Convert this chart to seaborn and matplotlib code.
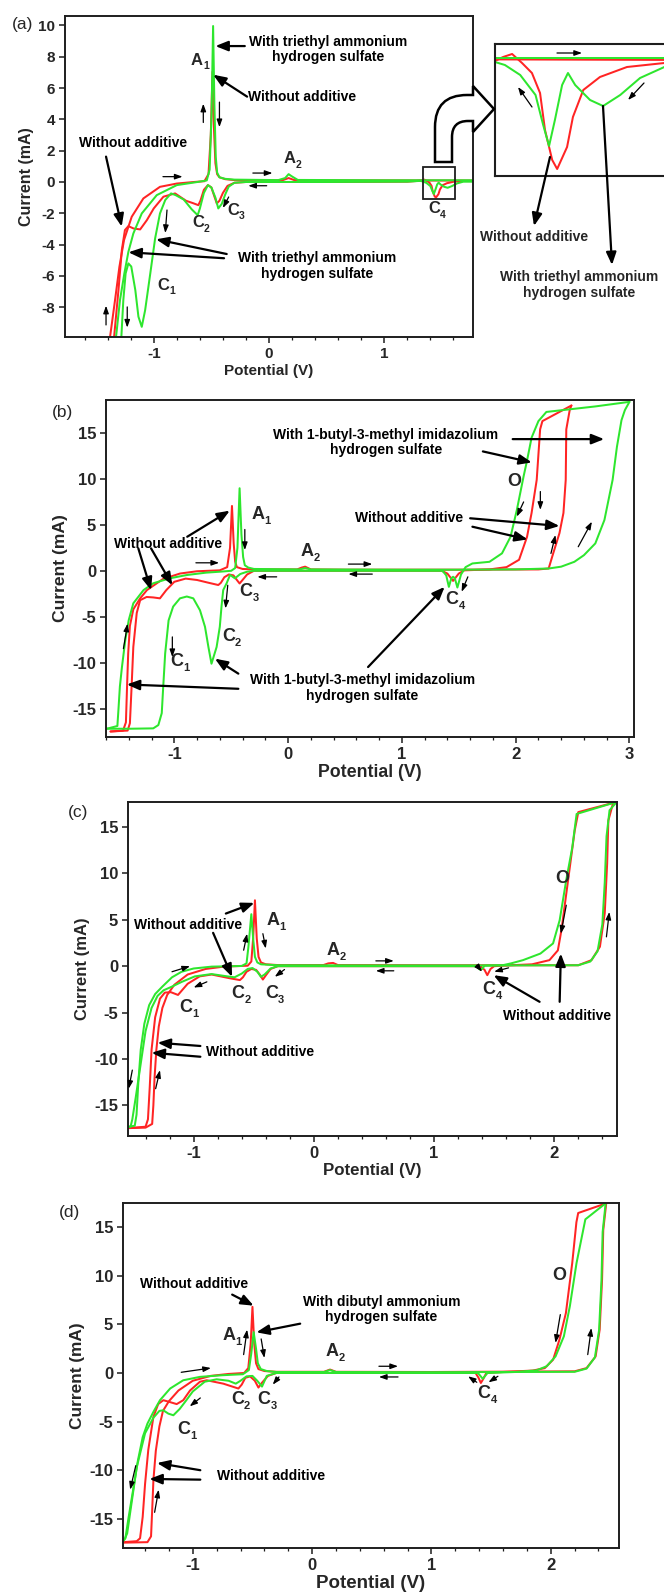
import matplotlib
matplotlib.use("Agg")
import matplotlib.pyplot as plt
import seaborn as sns
from matplotlib.path import Path
from matplotlib.patches import PathPatch, Rectangle
from matplotlib.ticker import MultipleLocator

# ---------------------------------------------------------------- data
# Cyclic voltammograms: (potential V, current mA) pairs, forward and reverse sweeps.

# (a) with / without triethyl ammonium hydrogen sulfate
A_RED_FWD = [(-1.40, -11.0), (-1.379, -9.89), (-1.336, -7.55), (-1.298, -5.42), (-1.258, -3.71),
             (-1.191, -2.22), (-1.09, -1.05), (-0.946, -0.31), (-0.80, -0.10), (-0.65, 0.0),
             (-0.56, 0.05), (-0.525, 0.5), (-0.505, 3.0), (-0.49, 7.04), (-0.478, 3.5),
             (-0.465, 1.2), (-0.45, 0.5), (-0.43, 0.3), (-0.38, 0.18), (-0.30, 0.12),
             (0.05, 0.10), (0.12, 0.12), (0.17, 0.25), (0.22, 0.12), (0.30, 0.10),
             (1.0, 0.10), (1.77, 0.09)]
A_RED_REV = [(1.77, 0.06), (1.686, 0.06), (1.603, 0.02), (1.543, -0.08), (1.506, -0.21),
             (1.483, -0.48), (1.47, -0.78), (1.448, -1.0), (1.437, -0.91), (1.421, -0.61),
             (1.41, -0.24), (1.392, -0.04), (1.37, 0.06), (1.348, 0.15), (1.328, 0.12),
             (1.31, 0.08), (1.2, 0.02), (0.5, 0.0), (-0.2, 0.0), (-0.3, -0.05),
             (-0.36, -0.25), (-0.40, -0.7), (-0.43, -1.2), (-0.453, -1.37), (-0.475, -0.9),
             (-0.50, -0.35), (-0.53, -0.2), (-0.565, -0.5), (-0.595, -1.2), (-0.613, -1.48),
             (-0.66, -1.35), (-0.72, -1.2), (-0.815, -0.73), (-0.916, -0.94), (-1.0, -1.69),
             (-1.06, -2.44), (-1.118, -3.03), (-1.175, -2.97), (-1.22, -2.82), (-1.25, -3.07),
             (-1.277, -4.35), (-1.306, -6.9), (-1.344, -9.89), (-1.36, -11.0)]
A_GRN_FWD = [(-1.34, -11.0), (-1.327, -9.89), (-1.293, -7.55), (-1.255, -5.84), (-1.22, -4.46),
             (-1.177, -3.29), (-1.104, -2.01), (-0.974, -0.84), (-0.80, -0.2), (-0.62, 0.0),
             (-0.54, 0.1), (-0.515, 0.8), (-0.498, 4.5), (-0.485, 9.96), (-0.474, 5.0),
             (-0.462, 1.6), (-0.45, 0.6), (-0.43, 0.3), (-0.38, 0.2), (-0.30, 0.15),
             (0.08, 0.12), (0.14, 0.25), (0.17, 0.5), (0.20, 0.35), (0.25, 0.13),
             (1.0, 0.11), (1.77, 0.11)]
A_GRN_REV = [(1.77, 0.02), (1.686, 0.02), (1.632, -0.09), (1.588, -0.26), (1.55, -0.37),
             (1.521, -0.31), (1.488, -0.16), (1.472, -0.04), (1.459, -0.16), (1.443, -0.51),
             (1.43, -0.77), (1.417, -0.56), (1.40, -0.26), (1.366, -0.06), (1.332, 0.04),
             (1.31, 0.07), (1.2, 0.02), (0.5, 0.0), (-0.2, 0.0), (-0.30, -0.05),
             (-0.35, -0.3), (-0.38, -0.8), (-0.41, -1.4), (-0.44, -1.69), (-0.465, -1.0),
             (-0.50, -0.35), (-0.53, -0.2), (-0.565, -0.7), (-0.60, -1.7), (-0.619, -2.12),
             (-0.67, -1.75), (-0.74, -1.12), (-0.81, -0.84), (-0.85, -0.73), (-0.90, -1.15),
             (-0.946, -2.01), (-0.988, -3.6), (-1.03, -5.84), (-1.075, -8.2), (-1.104, -9.25),
             (-1.133, -8.6), (-1.16, -6.9), (-1.195, -5.4), (-1.22, -5.2), (-1.244, -5.84),
             (-1.264, -7.55), (-1.281, -9.89), (-1.29, -11.0)]

# (b) with / without 1-butyl-3-methyl imidazolium hydrogen sulfate
B_RED_FWD = [(-1.56, -17.5), (-1.45, -17.4), (-1.425, -16.5), (-1.415, -12.6), (-1.405, -9.0),
             (-1.39, -6.0), (-1.36, -4.2), (-1.30, -3.0), (-1.24, -2.1), (-1.10, -0.9),
             (-0.95, -0.3), (-0.80, -0.05), (-0.60, 0.05), (-0.535, 0.4), (-0.51, 2.5),
             (-0.493, 7.06), (-0.478, 3.0), (-0.465, 1.0), (-0.45, 0.4), (-0.40, 0.2),
             (-0.30, 0.15), (0.08, 0.15), (0.12, 0.35), (0.15, 0.45), (0.20, 0.15),
             (0.5, 0.12), (1.5, 0.12), (2.2, 0.15), (2.29, 0.25), (2.33, 1.9),
             (2.385, 4.1), (2.42, 6.3), (2.44, 9.9), (2.445, 15.4), (2.475, 17.5), (2.49, 18.0)]
B_RED_REV = [(2.49, 18.0), (2.235, 16.3), (2.215, 15.4), (2.185, 9.9), (2.14, 6.3),
             (2.10, 3.7), (2.03, 1.2), (1.92, 0.4), (1.77, 0.15), (1.55, 0.05),
             (1.50, -0.3), (1.45, -1.1), (1.40, -0.3), (1.35, 0.0), (0.5, 0.0),
             (-0.30, 0.0), (-0.36, -0.4), (-0.40, -1.0), (-0.426, -1.38), (-0.45, -1.0),
             (-0.48, -0.5), (-0.52, -0.4), (-0.56, -0.7), (-0.59, -1.3), (-0.613, -1.55),
             (-0.70, -1.3), (-0.80, -1.0), (-0.90, -0.85), (-1.0, -1.2), (-1.07, -2.1),
             (-1.126, -3.0), (-1.185, -2.9), (-1.243, -2.85), (-1.30, -3.2), (-1.33, -4.6),
             (-1.36, -8.3), (-1.375, -12.6), (-1.39, -16.6), (-1.41, -17.4), (-1.56, -17.5)]
B_GRN_FWD = [(-1.60, -17.2), (-1.58, -17.16), (-1.50, -16.9), (-1.49, -15.0), (-1.478, -12.6),
             (-1.46, -10.5), (-1.43, -7.5), (-1.40, -5.36), (-1.36, -3.54), (-1.27, -2.1),
             (-1.185, -1.36), (-1.04, -0.82), (-0.89, -0.46), (-0.72, -0.2), (-0.60, -0.1),
             (-0.50, 0.0), (-0.465, 0.3), (-0.445, 2.5), (-0.426, 8.99), (-0.41, 4.0),
             (-0.395, 1.5), (-0.38, 0.6), (-0.35, 0.35), (-0.30, 0.2), (0.10, 0.15),
             (0.15, 0.3), (0.20, 0.15), (1.0, 0.12), (1.5, 0.12), (2.0, 0.15),
             (2.29, 0.25), (2.40, 0.45), (2.516, 0.98), (2.60, 1.7), (2.70, 2.98),
             (2.78, 5.53), (2.852, 9.9), (2.89, 13.5), (2.93, 16.4), (2.96, 17.5), (3.0, 18.4)]
B_GRN_REV = [(3.0, 18.4), (2.70, 17.9), (2.27, 17.3), (2.20, 16.3), (2.14, 14.5),
             (2.10, 12.0), (2.07, 10.3), (2.01, 6.6), (1.955, 3.7), (1.88, 1.9),
             (1.77, 0.98), (1.62, 0.8), (1.56, 0.4), (1.52, -0.4), (1.488, -1.82),
             (1.465, -0.8), (1.45, -0.65), (1.435, -0.8), (1.413, -1.75), (1.39, -0.5),
             (1.357, 0.0), (0.5, 0.0), (-0.30, 0.0), (-0.36, -0.1), (-0.42, -0.35),
             (-0.467, -0.82), (-0.51, -0.45), (-0.54, -1.36), (-0.57, -2.1), (-0.585, -3.9),
             (-0.60, -6.1), (-0.628, -8.3), (-0.673, -10.12), (-0.70, -8.3), (-0.73, -6.1),
             (-0.774, -4.3), (-0.833, -3.0), (-0.89, -2.8), (-0.95, -3.0), (-1.01, -3.9),
             (-1.05, -5.4), (-1.08, -9.0), (-1.097, -12.6), (-1.11, -15.5), (-1.14, -16.8),
             (-1.185, -17.16), (-1.39, -17.2), (-1.60, -17.2)]

# (c)
C_RED_FWD = [(-1.546, -17.45), (-1.40, -17.4), (-1.345, -17.0), (-1.335, -15.0), (-1.325, -12.0),
             (-1.31, -9.0), (-1.29, -6.5), (-1.26, -4.5), (-1.22, -3.1), (-1.16, -2.0),
             (-1.05, -0.9), (-0.90, -0.3), (-0.75, -0.05), (-0.55, 0.05), (-0.52, 0.5),
             (-0.505, 3.0), (-0.49, 7.1), (-0.475, 3.0), (-0.46, 1.0), (-0.44, 0.4),
             (-0.40, 0.2), (-0.30, 0.12), (0.08, 0.12), (0.12, 0.3), (0.16, 0.35),
             (0.20, 0.12), (1.0, 0.10), (2.0, 0.10), (2.20, 0.10), (2.31, 0.65),
             (2.38, 2.1), (2.42, 5.7), (2.44, 11.05), (2.45, 15.7), (2.49, 17.6)]
C_RED_REV = [(2.49, 17.6), (2.20, 16.6), (2.17, 14.6), (2.115, 9.26), (2.06, 3.9),
             (2.03, 1.7), (1.96, 0.65), (1.815, 0.2), (1.64, 0.1), (1.50, 0.0),
             (1.47, -0.3), (1.443, -0.97), (1.42, -0.4), (1.39, -0.05), (1.35, 0.0),
             (0.5, 0.0), (-0.30, 0.0), (-0.36, -0.3), (-0.40, -1.0), (-0.424, -1.44),
             (-0.45, -0.9), (-0.48, -0.4), (-0.52, -0.3), (-0.56, -0.6), (-0.59, -1.2),
             (-0.615, -1.5), (-0.70, -1.3), (-0.85, -0.9), (-0.95, -1.1), (-1.05, -1.9),
             (-1.13, -3.1), (-1.19, -2.8), (-1.24, -2.85), (-1.28, -3.5), (-1.32, -5.5),
             (-1.35, -9.0), (-1.365, -13.0), (-1.38, -16.5), (-1.40, -17.3), (-1.546, -17.45)]
C_GRN_FWD = [(-1.546, -17.3), (-1.49, -17.2), (-1.475, -16.0), (-1.46, -12.5), (-1.44, -9.0),
             (-1.41, -6.2), (-1.37, -4.2), (-1.32, -3.0), (-1.26, -2.2), (-1.18, -1.2),
             (-1.10, -0.6), (-1.0, -0.25), (-0.85, -0.05), (-0.60, 0.02), (-0.56, 0.3),
             (-0.545, 2.0), (-0.52, 5.6), (-0.505, 3.0), (-0.49, 1.0), (-0.47, 0.4),
             (-0.44, 0.2), (-0.30, 0.1), (0.5, 0.08), (1.5, 0.08), (2.2, 0.1),
             (2.30, 0.5), (2.36, 1.6), (2.40, 4.5), (2.42, 9.0), (2.435, 14.0),
             (2.46, 16.8), (2.52, 17.7)]
C_GRN_REV = [(2.52, 17.7), (2.186, 16.4), (2.15, 12.8), (2.10, 9.3), (2.045, 4.95),
             (1.99, 2.45), (1.885, 1.36), (1.74, 0.65), (1.64, 0.3), (1.57, 0.1),
             (1.42, 0.05), (1.40, -0.3), (1.38, -0.35), (1.36, -0.1), (1.33, 0.0),
             (0.5, 0.0), (-0.30, 0.0), (-0.36, -0.25), (-0.41, -0.9), (-0.44, -1.15),
             (-0.47, -0.6), (-0.51, -0.2), (-0.55, -0.3), (-0.60, -0.8), (-0.66, -1.2),
             (-0.72, -1.1), (-0.85, -0.85), (-0.99, -1.1), (-1.10, -1.7), (-1.18, -2.2),
             (-1.25, -2.6), (-1.30, -3.2), (-1.35, -4.5), (-1.40, -7.0), (-1.44, -10.5),
             (-1.48, -14.0), (-1.51, -16.5), (-1.525, -17.3), (-1.546, -17.35)]

# (d) with / without dibutyl ammonium hydrogen sulfate
D_RED_FWD = [(-1.585, -17.45), (-1.38, -17.4), (-1.35, -16.8), (-1.34, -14.0), (-1.33, -11.0),
             (-1.31, -8.0), (-1.28, -5.5), (-1.25, -3.9), (-1.20, -2.9), (-1.12, -1.8),
             (-1.0, -0.8), (-0.85, -0.3), (-0.70, -0.1), (-0.57, 0.0), (-0.535, 0.5),
             (-0.515, 3.0), (-0.50, 6.8), (-0.485, 3.0), (-0.47, 1.0), (-0.45, 0.4),
             (-0.40, 0.2), (-0.30, 0.12), (0.10, 0.12), (0.15, 0.35), (0.20, 0.12),
             (1.0, 0.10), (2.2, 0.17), (2.30, 0.5), (2.376, 1.7), (2.41, 4.46),
             (2.43, 9.6), (2.44, 14.7), (2.465, 17.45)]
D_RED_REV = [(2.465, 17.45), (2.23, 16.45), (2.215, 15.5), (2.18, 11.3), (2.127, 6.17),
             (2.073, 3.43), (2.02, 1.37), (1.95, 0.5), (1.85, 0.25), (1.60, 0.1),
             (1.46, 0.0), (1.435, -0.6), (1.414, -1.03), (1.395, -0.5), (1.37, 0.0),
             (0.5, 0.0), (-0.30, 0.0), (-0.37, -0.3), (-0.42, -1.0), (-0.45, -1.5),
             (-0.48, -0.8), (-0.52, -0.35), (-0.56, -0.5), (-0.59, -1.2), (-0.618, -1.6),
             (-0.744, -1.1), (-0.883, -0.75), (-0.94, -0.9), (-1.023, -1.8), (-1.08, -2.8),
             (-1.135, -3.2), (-1.19, -3.0), (-1.247, -2.8), (-1.29, -3.2), (-1.33, -4.5),
             (-1.373, -7.9), (-1.40, -11.4), (-1.42, -14.8), (-1.442, -17.0), (-1.47, -17.3),
             (-1.585, -17.4)]
D_GRN_FWD = [(-1.585, -17.25), (-1.565, -17.0), (-1.54, -15.0), (-1.50, -12.0), (-1.46, -9.0),
             (-1.42, -6.6), (-1.38, -5.2), (-1.33, -4.0), (-1.275, -2.8), (-1.19, -1.6),
             (-1.08, -0.75), (-0.94, -0.4), (-0.75, -0.23), (-0.58, -0.13), (-0.53, 0.3),
             (-0.51, 2.0), (-0.49, 4.2), (-0.47, 2.5), (-0.455, 1.0), (-0.43, 0.4),
             (-0.38, 0.2), (-0.30, 0.1), (0.10, 0.1), (0.15, 0.3), (0.20, 0.1),
             (1.0, 0.08), (2.2, 0.12), (2.30, 0.45), (2.37, 1.6), (2.405, 4.4),
             (2.425, 9.5), (2.435, 14.5), (2.46, 17.45)]
D_GRN_REV = [(2.46, 17.45), (2.29, 15.8), (2.216, 11.3), (2.16, 6.86), (2.11, 3.77),
             (2.04, 1.7), (1.966, 0.69), (1.88, 0.27), (1.70, 0.1), (1.47, 0.0),
             (1.45, -0.3), (1.43, -0.6), (1.41, -0.3), (1.39, 0.0), (0.5, 0.0),
             (-0.30, 0.0), (-0.38, -0.3), (-0.42, -1.4), (-0.46, -0.8), (-0.50, -0.3),
             (-0.55, -0.35), (-0.60, -0.8), (-0.64, -1.1), (-0.70, -0.8), (-0.80, -0.65),
             (-0.90, -0.9), (-1.0, -1.9), (-1.06, -2.9), (-1.11, -3.7), (-1.163, -4.35),
             (-1.205, -4.18), (-1.247, -3.84), (-1.28, -3.9), (-1.33, -4.6), (-1.40, -6.2),
             (-1.47, -9.7), (-1.51, -13.1), (-1.55, -16.5), (-1.575, -17.2), (-1.585, -17.25)]

# axis ticks
A_XTICKS = [-1, 0, 1]
A_YTICKS = [-8, -6, -4, -2, 0, 2, 4, 6, 8, 10]
B_XTICKS = [-1, 0, 1, 2, 3]
CD_XTICKS = [-1, 0, 1, 2]
BCD_YTICKS = [-15, -10, -5, 0, 5, 10, 15]

# ---------------------------------------------------------------- style
sns.set_style("ticks")
plt.rcParams["font.family"] = ["Liberation Sans", "DejaVu Sans"]
plt.rcParams["axes.unicode_minus"] = False

W, H = 664, 1593
fig = plt.figure(figsize=(W / 100, H / 100), dpi=100)

RED = "#ff2424"
GRN = "#2ee62e"
INK = "#1e1e1e"
LW = 1.45
TXT = 10


def frac(x, y):
    return (x / W, 1 - y / H)


def panel(l, t, r, b):
    return fig.add_axes([l / W, 1 - b / H, (r - l) / W, (b - t) / H])


def cv(ax, pts, color):
    v = [p[0] for p in pts]
    i = [p[1] for p in pts]
    sns.lineplot(x=v, y=i, sort=False, estimator=None, color=color, linewidth=LW, ax=ax)


def frame(ax, xlim, ylim, xticks, yticks, tick_fs, xl_fs, yl_fs):
    ax.set_xlim(*xlim)
    ax.set_ylim(*ylim)
    ax.set_xticks(xticks)
    ax.set_xticklabels([str(t) for t in xticks], fontsize=tick_fs, fontweight="bold")
    ax.set_yticks(yticks)
    ax.set_yticklabels([str(t) for t in yticks], fontsize=tick_fs, fontweight="bold")
    ax.xaxis.set_minor_locator(MultipleLocator(0.2))
    ax.tick_params(which="major", direction="out", length=4.5, width=1.1, color=INK, pad=2.5)
    ax.tick_params(which="minor", direction="out", length=2.5, width=0.9, color=INK)
    ax.set_xlabel("Potential (V)", fontsize=xl_fs, fontweight="bold", labelpad=2)
    ax.set_ylabel("Current (mA)", fontsize=yl_fs, fontweight="bold", labelpad=3)
    for s in ax.spines.values():
        s.set_visible(True)
        s.set_linewidth(1.4)
        s.set_color(INK)


def say(ax, x, y, s, ha="center"):
    ax.text(x, y, s, fontsize=TXT, fontweight="bold", ha=ha, va="center",
            multialignment="center", linespacing=1.15, color="k")


def peak(ax, x, y, base, sub=None, fs=12):
    ax.text(x, y, base, fontsize=fs, fontweight="bold", ha="center", va="center")
    if sub:
        ax.annotate(sub, xy=(x, y), xytext=(fs * 0.36, -fs * 0.36), textcoords="offset points",
                    fontsize=fs * 0.62, fontweight="bold", ha="left", va="center")


def point(ax, tail, tip, coords="data"):
    ax.annotate("", xy=tip, xytext=tail, xycoords=coords, textcoords=coords,
                arrowprops=dict(arrowstyle="-|>,head_length=0.75,head_width=0.3",
                                color="k", lw=1.6, mutation_scale=10, shrinkA=0, shrinkB=0))


def sweep(ax, tail, tip, coords="data"):
    ax.annotate("", xy=tip, xytext=tail, xycoords=coords, textcoords=coords,
                arrowprops=dict(arrowstyle="-|>,head_length=0.45,head_width=0.16",
                                color="k", lw=0.9, mutation_scale=10, shrinkA=0, shrinkB=0))


# ---------------------------------------------------------------- (a)
ax = panel(65, 16, 473, 337)
cv(ax, A_RED_FWD, RED)
cv(ax, A_RED_REV, RED)
cv(ax, A_GRN_FWD, GRN)
cv(ax, A_GRN_REV, GRN)
frame(ax, (-1.77, 1.77), (-9.9, 10.6), A_XTICKS, A_YTICKS, 11, 11, 11.5)
ax.add_patch(Rectangle((1.336, -1.08), 0.278, 2.04, fill=False, lw=1.3, ec=INK, zorder=5))

say(ax, 0.51, 8.46, "With triethyl ammonium\nhydrogen sulfate")
point(ax, (-0.21, 8.68), (-0.465, 8.68))
say(ax, -0.18, 5.45, "Without additive", ha="left")
point(ax, (-0.19, 5.45), (-0.484, 6.85))
say(ax, -1.18, 2.49, "Without additive")
point(ax, (-1.414, 1.62), (-1.278, -2.85))
say(ax, 0.42, -5.36, "With triethyl ammonium\nhydrogen sulfate")
point(ax, (-0.367, -4.6), (-0.98, -3.66))
point(ax, (-0.39, -4.87), (-1.22, -4.49))

peak(ax, -0.625, 7.79, "A", "1")
peak(ax, 0.18, 1.47, "A", "2")
peak(ax, -0.92, -6.58, "C", "1")
peak(ax, -0.616, -2.6, "C", "2")
peak(ax, -0.312, -1.79, "C", "3")
peak(ax, 1.432, -1.72, "C", "4")

sweep(ax, (-0.57, 3.8), (-0.57, 5.0))
sweep(ax, (-0.43, 5.1), (-0.43, 3.5))
sweep(ax, (-0.92, 0.34), (-0.75, 0.34))
sweep(ax, (-0.14, 0.57), (0.03, 0.57))
sweep(ax, (-0.02, -0.24), (-0.18, -0.24))
sweep(ax, (-0.35, -0.96), (-0.40, -1.66))
sweep(ax, (-1.414, -9.13), (-1.414, -7.9))
sweep(ax, (-1.23, -7.98), (-1.23, -9.3))
sweep(ax, (-0.885, -1.79), (-0.90, -3.26))

fig.text(*frac(12, 25), "(a)", fontsize=12.5, ha="left", va="center")

# magnified C4 region
ins = panel(495, 44, 704, 176)
cv(ins, A_RED_FWD, RED)
cv(ins, A_RED_REV, RED)
cv(ins, A_GRN_FWD, GRN)
cv(ins, A_GRN_REV, GRN)
ins.set_xlim(1.31, 1.774)
ins.set_ylim(-1.07, 0.25)
ins.set_xticks([])
ins.set_yticks([])
ins.set_xlabel("")
ins.set_ylabel("")
for s in ins.spines.values():
    s.set_visible(True)
    s.set_linewidth(1.5)
    s.set_color(INK)

fig.text(*frac(534, 237), "Without additive", fontsize=TXT, fontweight="bold",
         ha="center", va="center")
fig.text(*frac(579, 285), "With triethyl ammonium\nhydrogen sulfate", fontsize=TXT,
         fontweight="bold", ha="center", va="center", multialignment="center", linespacing=1.15)
point(ins, frac(550, 157), frac(534, 226), coords="figure fraction")
point(ins, frac(603, 106), frac(612, 265), coords="figure fraction")
sweep(ins, frac(557, 53), frac(582, 53), coords="figure fraction")
sweep(ins, frac(532, 107), frac(518, 87), coords="figure fraction")
sweep(ins, frac(644, 83), frac(628, 100), coords="figure fraction")

# hollow bent arrow from the boxed region to the magnified view
pts = [(435, 162), (435, 127), (435, 95), (467, 95), (473, 95), (473, 86), (494, 109),
       (473, 132), (473, 121), (468, 121), (452, 121), (452, 137), (452, 162), (435, 162)]
codes = [Path.MOVETO, Path.LINETO, Path.CURVE3, Path.CURVE3, Path.LINETO, Path.LINETO,
         Path.LINETO, Path.LINETO, Path.LINETO, Path.LINETO, Path.CURVE3, Path.CURVE3,
         Path.LINETO, Path.CLOSEPOLY]
bent = PathPatch(Path([frac(x, y) for x, y in pts], codes), transform=fig.transFigure,
                 facecolor="white", edgecolor="k", lw=1.8, zorder=10)
fig.add_artist(bent)

# ---------------------------------------------------------------- (b)
ax = panel(106, 400, 634, 737)
cv(ax, B_RED_FWD, RED)
cv(ax, B_RED_REV, RED)
cv(ax, B_GRN_FWD, GRN)
cv(ax, B_GRN_REV, GRN)
frame(ax, (-1.6, 3.04), (-18.1, 18.6), B_XTICKS, BCD_YTICKS, 12, 12.8, 12.6)

say(ax, 0.86, 13.98, "With 1-butyl-3-methyl imidazolium\nhydrogen sulfate")
point(ax, (1.974, 14.34), (2.778, 14.34))
point(ax, (1.712, 13.0), (2.142, 11.8))
say(ax, 1.065, 5.79, "Without additive")
point(ax, (1.60, 5.72), (2.385, 4.88))
point(ax, (1.62, 4.8), (2.105, 3.42))
say(ax, -1.054, 2.91, "Without additive")
point(ax, (-0.886, 3.71), (-0.512, 6.55))
point(ax, (-1.316, 2.44), (-1.204, -2.11))
point(ax, (-1.204, 2.44), (-1.017, -1.57))
say(ax, 0.654, -12.74, "With 1-butyl-3-methyl imidazolium\nhydrogen sulfate")
point(ax, (-0.437, -12.85), (-1.417, -12.38))
point(ax, (-0.437, -11.2), (-0.643, -9.57))
point(ax, (0.703, -10.48), (1.376, -1.75))

peak(ax, -0.265, 6.08, "A", "1", fs=13)
peak(ax, 0.168, 2.07, "A", "2", fs=13)
peak(ax, -0.976, -9.87, "C", "1", fs=13)
peak(ax, -0.523, -7.2, "C", "2", fs=13)
peak(ax, -0.37, -2.29, "C", "3", fs=13)
peak(ax, 1.44, -3.13, "C", "4", fs=13)
peak(ax, 1.985, 9.72, "O", fs=13)

sweep(ax, (-0.81, 0.87), (-0.606, 0.87))
sweep(ax, (-0.38, 4.5), (-0.38, 2.26))
sweep(ax, (-0.10, -0.66), (-0.27, -0.66))
sweep(ax, (0.53, 0.73), (0.74, 0.73))
sweep(ax, (0.74, -0.36), (0.53, -0.36))
sweep(ax, (-0.53, -1.57), (-0.55, -4.1))
sweep(ax, (-1.447, -8.48), (-1.41, -5.75))
sweep(ax, (-1.017, -7.2), (-1.017, -9.4))
sweep(ax, (1.58, -0.66), (1.525, -2.29))
sweep(ax, (2.07, 7.5), (2.01, 5.9))
sweep(ax, (2.217, 8.63), (2.217, 6.63))
sweep(ax, (2.31, 1.89), (2.35, 3.9))
sweep(ax, (2.55, 2.62), (2.67, 5.35))

fig.text(*frac(52, 412), "(b)", fontsize=12.5, ha="left", va="center")

# ---------------------------------------------------------------- (c)
ax = panel(128, 802, 617, 1136)
cv(ax, C_RED_FWD, RED)
cv(ax, C_RED_REV, RED)
cv(ax, C_GRN_FWD, GRN)
cv(ax, C_GRN_REV, GRN)
frame(ax, (-1.546, 2.522), (-18.3, 17.69), CD_XTICKS, BCD_YTICKS, 12, 12.2, 12)

say(ax, -1.047, 4.41, "Without additive")
point(ax, (-0.732, 5.67), (-0.495, 6.82))
point(ax, (-0.838, 3.59), (-0.68, -1.15))
say(ax, -0.45, -9.22, "Without additive")
point(ax, (-0.944, -8.6), (-1.30, -8.25))
point(ax, (-0.944, -9.76), (-1.35, -9.33))
say(ax, 2.02, -5.38, "Without additive")
point(ax, (1.878, -3.84), (1.496, -0.97))
point(ax, (2.045, -3.84), (2.055, 1.36))

peak(ax, -0.343, 4.95, "A", "1", fs=13)
peak(ax, 0.16, 1.72, "A", "2", fs=13)
peak(ax, -1.068, -4.49, "C", "1", fs=13)
peak(ax, -0.633, -2.94, "C", "2", fs=13)
peak(ax, -0.35, -2.94, "C", "3", fs=13)
peak(ax, 1.457, -2.51, "C", "4", fs=13)
peak(ax, 2.07, 9.44, "O", fs=13)

sweep(ax, (-1.18, -0.6), (-1.03, 0.0))
sweep(ax, (-0.89, -1.69), (-1.0, -2.3))
sweep(ax, (-0.584, 1.72), (-0.555, 3.5))
sweep(ax, (-0.424, 3.5), (-0.40, 1.9))
sweep(ax, (-0.244, -0.36), (-0.325, -1.15))
sweep(ax, (0.516, 0.57), (0.665, 0.57))
sweep(ax, (0.665, -0.5), (0.516, -0.5))
sweep(ax, (1.355, 0.1), (1.40, -0.6))
sweep(ax, (1.62, -0.18), (1.50, -0.6))
sweep(ax, (2.10, 6.57), (2.055, 3.5))
sweep(ax, (2.434, 3.16), (2.458, 5.85))
sweep(ax, (-1.51, -11.2), (-1.54, -13.2))
sweep(ax, (-1.316, -13.2), (-1.28, -11.2))

fig.text(*frac(68, 813), "(c)", fontsize=12.5, ha="left", va="center")

# ---------------------------------------------------------------- (d)
ax = panel(123, 1203, 619, 1548)
cv(ax, D_RED_FWD, RED)
cv(ax, D_RED_REV, RED)
cv(ax, D_GRN_FWD, GRN)
cv(ax, D_GRN_REV, GRN)
frame(ax, (-1.585, 2.572), (-18.0, 17.48), CD_XTICKS, BCD_YTICKS, 12, 13.5, 12.4)

say(ax, -0.987, 9.15, "Without additive")
point(ax, (-0.67, 8.06), (-0.49, 6.92))
say(ax, 0.58, 6.51, "With dibutyl ammonium\nhydrogen sulfate")
point(ax, (-0.10, 5.07), (-0.467, 4.18))
say(ax, -0.342, -10.56, "Without additive")
point(ax, (-0.937, -10.0), (-1.30, -9.26))
point(ax, (-0.937, -10.97), (-1.364, -10.9))

peak(ax, -0.698, 3.84, "A", "1", fs=13)
peak(ax, 0.167, 2.23, "A", "2", fs=13)
peak(ax, -1.072, -5.83, "C", "1", fs=13)
peak(ax, -0.627, -2.74, "C", "2", fs=13)
peak(ax, -0.403, -2.74, "C", "3", fs=13)
peak(ax, 1.44, -2.06, "C", "4", fs=13)
peak(ax, 2.073, 10.0, "O", fs=13)

sweep(ax, (-1.097, 0.07), (-0.848, 0.51))
sweep(ax, (-0.937, -2.57), (-1.026, -3.43))
sweep(ax, (-0.574, 1.89), (-0.545, 4.46))
sweep(ax, (-0.427, 3.5), (-0.40, 1.54))
sweep(ax, (-0.278, -0.41), (-0.33, -1.2))
sweep(ax, (0.56, 0.69), (0.72, 0.69))
sweep(ax, (0.72, -0.41), (0.56, -0.41))
sweep(ax, (1.38, -0.96), (1.307, -0.34))
sweep(ax, (1.557, -0.34), (1.478, -0.96))
sweep(ax, (2.08, 6.0), (2.04, 3.09))
sweep(ax, (2.31, 1.89), (2.34, 4.63))
sweep(ax, (-1.478, -9.53), (-1.525, -12.0))
sweep(ax, (-1.32, -14.33), (-1.286, -12.0))

fig.text(*frac(59, 1212), "(d)", fontsize=12.5, ha="left", va="center")

fig.savefig("out.png", dpi=100, facecolor="white")
